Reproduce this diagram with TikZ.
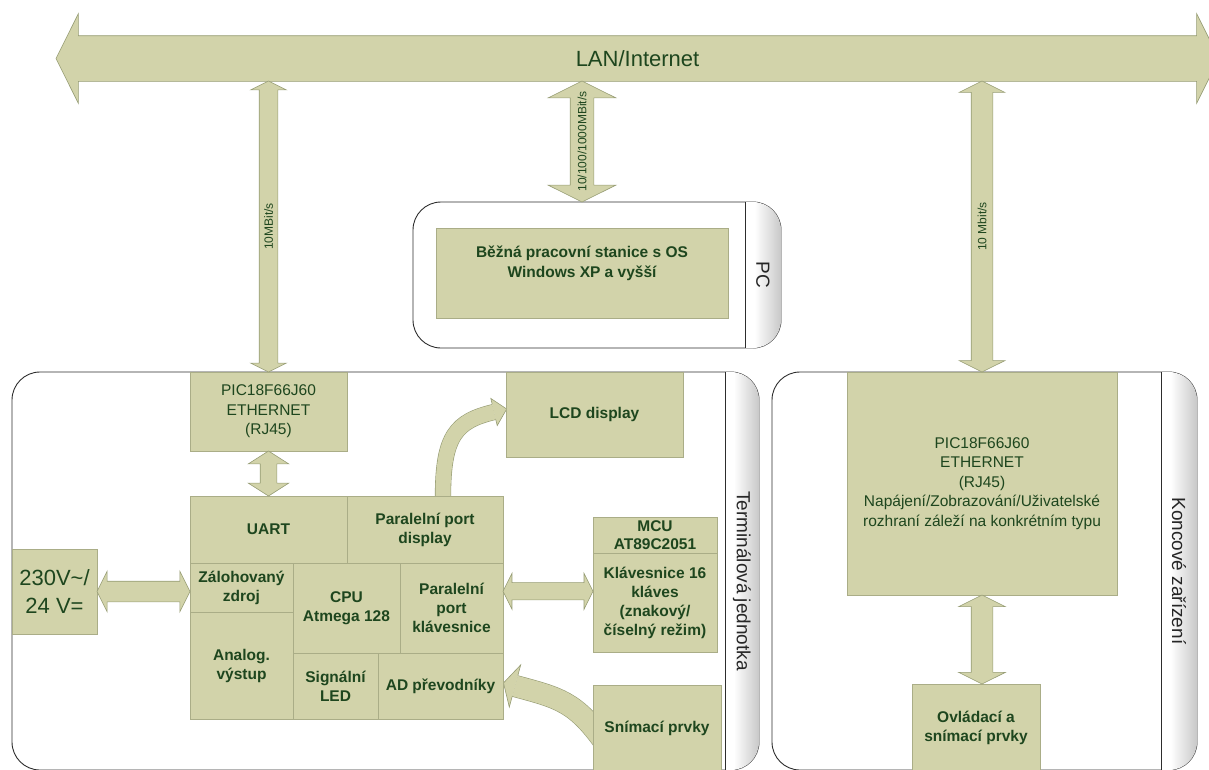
\documentclass[tikz,border=0pt]{standalone}
\usepackage{fontspec}
\setmainfont{Liberation Sans}
\usetikzlibrary{positioning, shapes.arrows, calc, backgrounds}
\pgfdeclarelayer{links}
\pgfsetlayers{background,links,main}
\definecolor{textGreen}{RGB}{30,70,30}
\definecolor{blockFill}{RGB}{210,211,170}
\definecolor{blockLine}{RGB}{170,173,135}
\definecolor{arrowLine}{RGB}{150,156,116}
\definecolor{frameLine}{RGB}{45,45,45}
\definecolor{stripDark}{RGB}{200,200,200}
\pgfdeclarehorizontalshading{stripShade}{100bp}{color(0bp)=(white); color(38bp)=(white); color(75bp)=(stripDark); color(100bp)=(stripDark)}

\begin{document}
\begin{tikzpicture}[x=1pt, y=-1pt,
    blockNode/.style={rectangle, draw=blockLine, fill=blockFill, text=textGreen, anchor=north west, inner sep=0pt, outer sep=0pt, align=center, line width=0.6pt, font=\fontsize{15.5}{19}\selectfont\bfseries},
    chipNode/.style={blockNode, font=\fontsize{15.5}{19.5}\selectfont},
    unitNode/.style={rectangle, rounded corners=28pt, draw=frameLine, line width=0.9pt, anchor=north west, outer sep=0pt},
    sideLabel/.style={rotate=-90, text=black!85, font=\fontsize{19}{22}\selectfont},
    busArrow/.style={double arrow, draw=arrowLine, fill=blockFill, line width=0.6pt, inner sep=0pt, double arrow tip angle=127, double arrow head indent=0pt, text=textGreen, font=\fontsize{12}{14}\selectfont},
    bendLink/.style={draw=arrowLine, line width=0.6pt, double=blockFill}
  ]
    \useasboundingbox (0,0) rectangle (1209,769);

    % Units (frames) with shaded side strip
    \begin{pgfonlayer}{background}
    \node[unitNode, minimum width=368pt, minimum height=146pt] (pc) at (413,202) {};
    \node[unitNode, minimum width=747pt, minimum height=398pt] (term) at (12,372) {};
    \node[unitNode, minimum width=425pt, minimum height=398pt] (endd) at (772,372) {};
    \foreach \u/\w in {pc/36, term/34, endd/36} {
      \begin{scope}
        \clip[rounded corners=28pt] (\u.north west) rectangle (\u.south east);
        \shade[shading=stripShade] ([xshift=-\w pt]\u.north east) rectangle (\u.south east);
      \end{scope}
      \draw[frameLine, line width=0.9pt] ([xshift=-\w pt]\u.north east) -- ([xshift=-\w pt]\u.south east);
    }
    \end{pgfonlayer}
    \node[sideLabel] at ([xshift=-18pt]pc.east) {PC};
    \node[sideLabel] at ([xshift=-17pt, yshift=-10pt]term.east) {Terminálová jednotka};
    \node[sideLabel] at ([xshift=-18pt]endd.east) {Koncové zařízení};

    % PC
    \node[blockNode, minimum width=292pt, minimum height=90pt] (ws) at (436,228) {};
    \node[text=textGreen, align=center, font=\fontsize{15.5}{20}\selectfont\bfseries] at ([yshift=10pt]ws.center) {Běžná pracovní stanice s OS\\Windows XP a vyšší};

    % Terminal unit
    \node[chipNode, minimum width=157pt, minimum height=79pt] (picT) at (190,372) {PIC18F66J60\\ETHERNET\\(RJ45)};
    \node[blockNode, minimum width=157pt, minimum height=67pt] (uart) at (190,496) {UART};
    \node[blockNode, minimum width=156pt, minimum height=67pt, right=0pt of uart] (pdisp) {Paralelní port\\display};
    \node[blockNode, minimum width=103pt, minimum height=49pt] (zdroj) at (uart.south west) {Zálohovaný\\zdroj};
    \node[blockNode, minimum width=103pt, minimum height=107pt] (analog) at (zdroj.south west) {Analog.\\výstup};
    \node[blockNode, minimum width=107pt, minimum height=90pt] (cpu) at (zdroj.north east) {CPU\\Atmega 128};
    \node[blockNode, minimum width=103pt, minimum height=90pt, right=0pt of cpu] (pkl) {Paralelní\\port\\klávesnice};
    \node[blockNode, minimum width=85pt, minimum height=66pt] (led) at (cpu.south west) {Signální\\LED};
    \node[blockNode, minimum width=125pt, minimum height=66pt, right=0pt of led] (adc) {AD převodníky};
    \node[chipNode, minimum width=85pt, minimum height=85pt, font=\fontsize{22}{28}\selectfont] (power) at (12,549) {230V\textasciitilde/\\24 V=};
    \node[blockNode, minimum width=177pt, minimum height=85pt] (lcd) at (506,372) {LCD display};
    \node[blockNode, minimum width=124pt, minimum height=36pt, font=\fontsize{15.5}{18}\selectfont\bfseries] (mcu) at (593,517) {MCU\\AT89C2051};
    \node[blockNode, minimum width=124pt, minimum height=99pt, below=0pt of mcu] (kbd) {Klávesnice 16\\kláves\\(znakový/\\číselný režim)};
    \node[blockNode, minimum width=128pt, minimum height=86pt] (snim) at (593,685) {Snímací prvky};

    % End devices
    \node[chipNode, minimum width=270pt, minimum height=223pt] (picK) at (847,372) {PIC18F66J60\\ETHERNET\\(RJ45)\\Napájení/Zobrazování/Uživatelské\\rozhraní záleží na konkrétním typu};
    \node[blockNode, minimum width=128pt, minimum height=87pt] (ovl) at (912,684) {Ovládací a\\snímací prvky};

    % Network bus and links
    \node[busArrow, minimum height=1163pt, minimum width=89pt, double arrow head extend=22pt, text height=30.4pt, text depth=14.6pt, font=\fontsize{22}{26}\selectfont] (lan) at (637.5,58.5) {LAN/Internet};
    \coordinate (busBottom) at ([yshift=-22.5pt]lan.center);
    \node[busArrow, rotate=90, minimum height=291pt, minimum width=35pt, double arrow head extend=8.5pt, text height=13.3pt, text depth=4.7pt] (netT) at ($(picT.north)!.5!(picT.north |- busBottom)$) {10MBit/s};
    \node[busArrow, rotate=90, minimum height=121pt, minimum width=67pt, double arrow head extend=22pt, text height=15.8pt, text depth=7.2pt] (netPC) at ($(ws.north |- pc.north)!.5!(ws.north |- busBottom)$) {10/100/1000MBit/s};
    \node[busArrow, rotate=90, minimum height=291pt, minimum width=45pt, double arrow head extend=12pt, text height=14.8pt, text depth=6.2pt] (netK) at ($(picK.north)!.5!(picK.north |- busBottom)$) {10 Mbit/s};

    \node[busArrow, rotate=90, minimum height=45pt, minimum width=40pt, double arrow head extend=12pt, double arrow tip angle=115, text height=8pt, text depth=8pt] (uartLink) at ($(picT.south)!.5!(uart.north)$) {};
    \node[busArrow, minimum height=93pt, minimum width=40pt, double arrow head extend=10pt, text height=10pt, text depth=10pt] (pwrLink) at ($(power.east)!.5!(zdroj.west |- power.east)$) {};
    \node[busArrow, minimum height=90pt, minimum width=36pt, double arrow head extend=9pt, text height=8pt, text depth=8pt] (kbdLink) at ($(pkl.east)!.5!(kbd.west)+(0,-14)$) {};
    \node[busArrow, rotate=90, minimum height=89pt, minimum width=46pt, double arrow head extend=12.5pt, text height=10.5pt, text depth=10.5pt] (ovlLink) at ($(picK.south)!.5!(picK.south |- ovl.north)$) {};

    % Bent links
    \coordinate (lcdIn) at ([xshift=-12pt, yshift=2.5pt]lcd.west);
    \coordinate (adcIn) at ([xshift=12pt]adc.east);
    \begin{pgfonlayer}{links}
    \draw[bendLink, double distance=15pt] ([xshift=18pt]pdisp.north) .. controls +(0,-60) and +(-38,9) .. (lcdIn);
    \fill[blockFill] ($(lcdIn)+(-3.2,-13.6)$) -- ($(lcdIn)+(12.7,-3)$) -- ($(lcdIn)+(3.2,13.6)$) -- cycle;
    \draw[arrowLine, line width=0.6pt] ($(lcdIn)+(-1.8,-7.8)$) -- ($(lcdIn)+(-3.2,-13.6)$) -- ($(lcdIn)+(12.7,-3)$) -- ($(lcdIn)+(3.2,13.6)$) -- ($(lcdIn)+(1.8,7.8)$);

    \draw[bendLink, double distance=21pt] ($(snim.west)+(12,15)$) .. controls +(-30,-42) and +(44,12) .. (adcIn);
    \fill[blockFill] ($(adcIn)+(5.7,-21.1)$) -- ($(adcIn)+(-11.5,-3.1)$) -- ($(adcIn)+(-5.7,21.1)$) -- cycle;
    \draw[arrowLine, line width=0.6pt] ($(adcIn)+(2.9,-10.7)$) -- ($(adcIn)+(5.7,-21.1)$) -- ($(adcIn)+(-11.5,-3.1)$) -- ($(adcIn)+(-5.7,21.1)$) -- ($(adcIn)+(-2.9,10.7)$);
    \end{pgfonlayer}
\end{tikzpicture}
\end{document}
